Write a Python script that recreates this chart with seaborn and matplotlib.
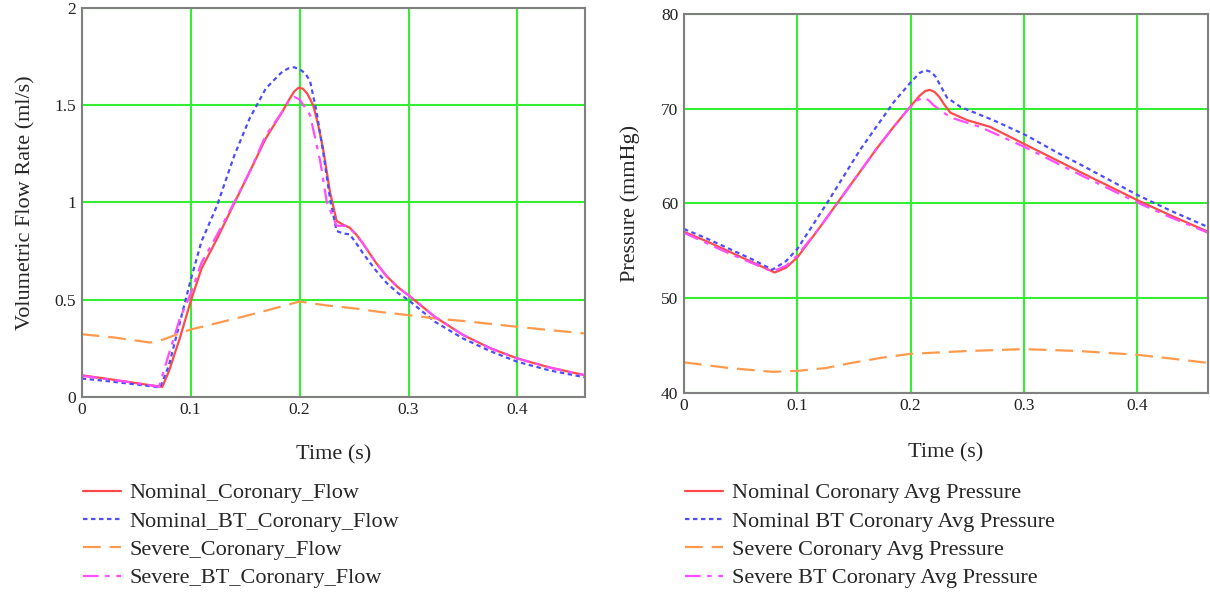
import matplotlib
matplotlib.use("Agg")
import matplotlib.pyplot as plt
import seaborn as sns
import pandas as pd

# ---- left panel: volumetric flow rate (ml/s) ----
t_nom_flow = [0, 0.02, 0.04, 0.06, 0.074, 0.08, 0.09, 0.1, 0.11, 0.124, 0.14, 0.154, 0.169, 0.184,
              0.19, 0.195, 0.199, 0.203, 0.207, 0.2125, 0.217, 0.2216, 0.228, 0.234, 0.24, 0.246,
              0.252, 0.258, 0.27, 0.28, 0.29, 0.3, 0.3245, 0.35, 0.375, 0.4, 0.43, 0.462]
nom_flow = [0.111, 0.095, 0.079, 0.062, 0.051, 0.13, 0.30, 0.49, 0.66, 0.81, 0.995, 1.155, 1.33, 1.465,
            1.525, 1.57, 1.59, 1.585, 1.56, 1.5, 1.40, 1.276, 1.05, 0.905, 0.885, 0.87,
            0.835, 0.79, 0.69, 0.62, 0.565, 0.522, 0.41, 0.318, 0.25, 0.197, 0.15, 0.111]

t_nom_bt_flow = [0, 0.02, 0.04, 0.06, 0.072, 0.08, 0.09, 0.1, 0.11, 0.124, 0.14, 0.154, 0.169, 0.184,
                 0.19, 0.195, 0.2, 0.205, 0.2096, 0.2156, 0.2216, 0.228, 0.234, 0.24, 0.246, 0.252,
                 0.258, 0.27, 0.28, 0.29, 0.3, 0.3245, 0.35, 0.375, 0.4, 0.43, 0.462]
nom_bt_flow = [0.094, 0.083, 0.07, 0.057, 0.048, 0.16, 0.38, 0.6, 0.80, 0.98, 1.24, 1.43, 1.586, 1.672,
               1.69, 1.695, 1.685, 1.665, 1.625, 1.466, 1.26, 1.017, 0.853, 0.84, 0.836, 0.79,
               0.74, 0.65, 0.585, 0.535, 0.497, 0.385, 0.30, 0.235, 0.18, 0.135, 0.1]

t_sev_flow = [0, 0.03, 0.063, 0.075, 0.09, 0.1, 0.125, 0.15, 0.175, 0.2, 0.225, 0.25, 0.273,
              0.3, 0.325, 0.35, 0.4, 0.43, 0.462]
sev_flow = [0.322, 0.305, 0.279, 0.295, 0.326, 0.346, 0.38, 0.415, 0.452, 0.49, 0.47, 0.455, 0.437,
            0.42, 0.403, 0.39, 0.36, 0.343, 0.326]

t_sev_bt_flow = [0, 0.02, 0.04, 0.06, 0.071, 0.08, 0.09, 0.1, 0.11, 0.124, 0.14, 0.154, 0.169, 0.184,
                 0.19, 0.195, 0.2, 0.2096, 0.219, 0.225, 0.234, 0.243, 0.252, 0.258,
                 0.27, 0.28, 0.29, 0.3, 0.3245, 0.35, 0.375, 0.4, 0.43, 0.462]
sev_bt_flow = [0.108, 0.093, 0.078, 0.062, 0.052, 0.22, 0.40, 0.53, 0.69, 0.83, 1.0, 1.155, 1.345, 1.465,
               1.52, 1.543, 1.53, 1.45, 1.21, 1.0, 0.88, 0.88, 0.835, 0.79,
               0.69, 0.62, 0.565, 0.522, 0.41, 0.318, 0.25, 0.197, 0.15, 0.111]

# ---- right panel: average pressure (mmHg) ----
t_nom_p = [0, 0.02, 0.04, 0.06, 0.08, 0.09, 0.1, 0.12, 0.135, 0.155, 0.17, 0.185, 0.198, 0.208,
           0.213, 0.217, 0.221, 0.225, 0.23, 0.235, 0.25, 0.27, 0.3, 0.35, 0.4, 0.43, 0.4625]
nom_p = [57.0, 56.0, 54.9, 53.8, 52.7, 53.2, 54.3, 57.5, 60.0, 63.3, 65.8, 68.1, 70.0, 71.4,
         71.9, 72.0, 71.8, 71.3, 70.4, 69.6, 68.8, 68.1, 66.3, 63.3, 60.35, 58.7, 57.0]

t_nom_bt_p = [0, 0.02, 0.04, 0.06, 0.078, 0.09, 0.1, 0.126, 0.155, 0.185, 0.2, 0.208, 0.213, 0.218,
              0.222, 0.232, 0.244, 0.273, 0.302, 0.329, 0.35, 0.4, 0.43, 0.4625]
nom_bt_p = [57.3, 56.3, 55.2, 54.1, 53.0, 53.9, 55.2, 60.0, 65.6, 70.7, 72.8, 73.8, 74.1, 73.9,
            73.4, 71.2, 70.2, 68.8, 67.2, 65.4, 64.1, 60.9, 59.2, 57.5]

t_sev_p = [0, 0.04, 0.078, 0.1, 0.125, 0.146, 0.175, 0.2, 0.25, 0.3, 0.348, 0.4, 0.43, 0.462]
sev_p = [43.2, 42.6, 42.2, 42.3, 42.6, 43.1, 43.7, 44.1, 44.4, 44.6, 44.4, 44.0, 43.6, 43.15]

t_sev_bt_p = [0, 0.02, 0.04, 0.06, 0.078, 0.09, 0.1, 0.12, 0.135, 0.155, 0.17, 0.185, 0.198, 0.206,
              0.211, 0.216, 0.22, 0.235, 0.261, 0.3, 0.35, 0.4, 0.43, 0.4625]
sev_bt_p = [56.9, 55.8, 54.7, 53.7, 52.8, 53.4, 54.5, 57.5, 60.0, 63.3, 65.8, 68.1, 70.0, 70.9,
            71.2, 70.9, 70.4, 69.1, 68.1, 66.0, 63.0, 60.1, 58.5, 56.9]

flow_labels = ["Nominal_Coronary_Flow", "Nominal_BT_Coronary_Flow",
               "Severe_Coronary_Flow", "Severe_BT_Coronary_Flow"]
press_labels = ["Nominal Coronary Avg Pressure", "Nominal BT Coronary Avg Pressure",
                "Severe Coronary Avg Pressure", "Severe BT Coronary Avg Pressure"]

x_ticks = [0, 0.1, 0.2, 0.3, 0.4]
x_ticklabels = ["0", "0.1", "0.2", "0.3", "0.4"]
flow_ticks = [0, 0.5, 1, 1.5, 2]
flow_ticklabels = ["0", "0.5", "1", "1.5", "2"]
press_ticks = [40, 50, 60, 70, 80]
press_ticklabels = ["40", "50", "60", "70", "80"]

colors = ["#ff4a4a", "#4d4dff", "#ff9a4d", "#ff4dff"]
styles = ["-", (0, (2, 1.6)), (0, (8, 4)), (0, (7, 3, 2, 3))]

sns.set_style("white")
plt.rcParams["font.family"] = ["Liberation Serif", "DejaVu Serif"]

fig = plt.figure(figsize=(12.1, 5.94), dpi=100)
ax1 = fig.add_axes([0.0675, 0.332, 0.416, 0.6545])
ax2 = fig.add_axes([0.5653, 0.339, 0.4327, 0.637])

flow_series = [(t_nom_flow, nom_flow), (t_nom_bt_flow, nom_bt_flow),
               (t_sev_flow, sev_flow), (t_sev_bt_flow, sev_bt_flow)]
press_series = [(t_nom_p, nom_p), (t_nom_bt_p, nom_bt_p),
                (t_sev_p, sev_p), (t_sev_bt_p, sev_bt_p)]

for ax, series, labels in [(ax1, flow_series, flow_labels), (ax2, press_series, press_labels)]:
    for (tt, vv), lab, c, ls in zip(series, labels, colors, styles):
        df = pd.DataFrame({"t": tt, "v": vv})
        sns.lineplot(data=df, x="t", y="v", ax=ax, color=c, linestyle=ls, lw=1.6,
                     label=lab, estimator=None, sort=False)

ax1.set_xlim(0, 0.462)
ax1.set_ylim(0, 2)
ax1.set_yticks(flow_ticks)
ax1.set_yticklabels(flow_ticklabels)
ax1.set_ylabel("Volumetric Flow Rate (ml/s)", fontsize=16, labelpad=14)
ax1.xaxis.set_label_coords(0.5, -0.125)

ax2.set_xlim(0, 0.462)
ax2.set_ylim(40, 80)
ax2.set_yticks(press_ticks)
ax2.set_yticklabels(press_ticklabels)
ax2.set_ylabel("Pressure (mmHg)", fontsize=16, labelpad=15)
ax2.xaxis.set_label_coords(0.5, -0.133)

for ax in (ax1, ax2):
    ax.set_xticks(x_ticks)
    ax.set_xticklabels(x_ticklabels)
    ax.set_xlabel("Time (s)", fontsize=16)
    ax.grid(True, color="#33ee33", lw=1.5)
    ax.set_axisbelow(True)
    ax.tick_params(length=0, labelsize=12.5, colors="#222222", pad=4)
    for s in ax.spines.values():
        s.set_color("#808080")
        s.set_linewidth(1.5)
    ax.get_legend().remove()

for ax, x0 in [(ax1, 0.0685), (ax2, 0.5665)]:
    h, l = ax.get_legend_handles_labels()
    fig.legend(h, l, loc="upper left", bbox_to_anchor=(x0, 0.187), frameon=False,
               fontsize=16, handlelength=1.7, handletextpad=0.4, labelspacing=0.35,
               borderpad=0, borderaxespad=0)

fig.savefig("out.png", dpi=100)
